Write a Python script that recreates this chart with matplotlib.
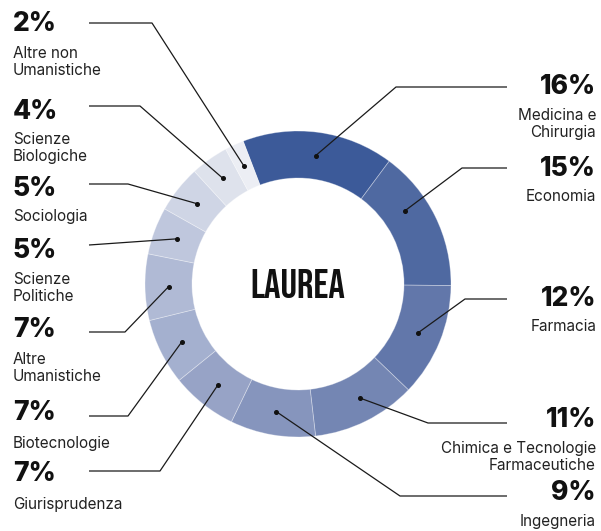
import numpy as np
import matplotlib.pyplot as plt

# slice data, clockwise from the top
LABELS = ["Medicina e\nChirurgia", "Economia", "Farmacia",
          "Chimica e Tecnologie\nFarmaceutiche", "Ingegneria",
          "Giurisprudenza", "Biotecnologie", "Altre\nUmanistiche",
          "Scienze\nPolitiche", "Sociologia", "Scienze\nBiologiche",
          "Altre non\nUmanistiche"]
VALUES = [16, 15, 12, 11, 9, 7, 7, 7, 5, 5, 4, 2]
COLORS = ["#3c5a99", "#4f69a1", "#6277aa", "#7486b3", "#8695bd", "#97a3c6",
          "#a4b0cf", "#b0bad5", "#bfc7dd", "#cfd5e5", "#dee2ec", "#eceef4"]

# layout (pixel coords, y from top):
# side, percent y, leader y, elbow x, name top y, dot angle shift (deg)
LAYOUT = [
    ("r", 87, 87, 396, 108, 0),
    ("r", 169, 168, 462, 189, 8),
    ("r", 299, 299, 465, 319, 0),
    ("r", 420, 423, 428, 441, 2),
    ("r", 493, 496, 400, 514, 0),
    ("l", 474, 471, 160, 497, 0),
    ("l", 413, 416, 128, 436, 0),
    ("l", 330, 332, 125, 352, 0),
    ("l", 251, 245, None, 272, 0),
    ("l", 189, 184, 128, 209, 0),
    ("l", 112, 106, 140, 132, 0),
    ("l", 24, 23, 152, 46, 0),
]

W, H = 601, 531
CX, CY = 298, 284
R_OUT, R_IN = 153, 106
START = 111

FONT = ["Inter", "DejaVu Sans"]


def py(y):
    return H - y


fig = plt.figure(figsize=(W / 100, H / 100), dpi=100)
ax = fig.add_axes([0, 0, 1, 1])

wedges, _ = ax.pie(
    VALUES, colors=COLORS, startangle=START, counterclock=False,
    center=(CX, py(CY)), radius=R_OUT,
    wedgeprops=dict(width=R_OUT - R_IN, edgecolor=(1, 1, 1, 0.35), linewidth=0.6))
ax.set_xlim(0, W)
ax.set_ylim(0, H)
ax.set_aspect("auto")
ax.axis("off")

ax.text(CX, py(CY), "LAUREA", ha="center", va="center", fontsize=29.5,
        family=["Bebas Neue", "DejaVu Sans"], color="#111")

r_dot = (R_OUT + R_IN) / 2
for w, val, lab, (side, pct_y, line_y, elbow, name_y, shift) in zip(
        wedges, VALUES, LABELS, LAYOUT):
    ang = np.deg2rad((w.theta1 + w.theta2) / 2 + shift)
    dx = CX + r_dot * np.cos(ang)
    dy = py(CY) + r_dot * np.sin(ang)
    end = 507 if side == "r" else 89
    if elbow:
        xs, ys = [dx, elbow, end], [dy, py(line_y), py(line_y)]
    else:
        xs, ys = [dx, end], [dy, py(line_y)]
    tx, ha = (596, "right") if side == "r" else (13, "left")
    ax.plot(xs, ys, color="#1a1a1a", lw=0.9, solid_capstyle="butt")
    ax.plot(dx, dy, "o", color="#111", ms=2.6)
    ax.text(tx, py(pct_y), "{}%".format(val), ha=ha, va="center",
            fontsize=19, fontweight="heavy", family=FONT, color="#111")
    ax.text(tx, py(name_y), lab, ha=ha, va="top", fontsize=11,
            family=FONT, color="#222", linespacing=1.2,
            multialignment=ha)

fig.savefig("out.png", dpi=100)
